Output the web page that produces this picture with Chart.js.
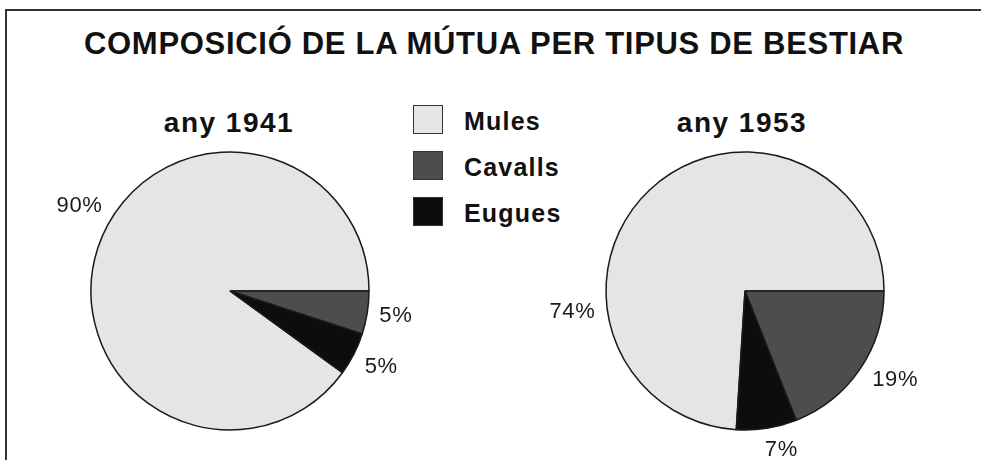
<!DOCTYPE html>
<html>
<head>
<meta charset="utf-8">
<script src="https://cdn.jsdelivr.net/npm/chart.js@4.4.0/dist/chart.umd.min.js"></script>
<style>
  html, body { margin:0; padding:0; background:#fff; }
  body { width:981px; height:460px; position:relative; overflow:hidden; font-family:"Liberation Sans", Arial, sans-serif; color:#111; }
  .frame { position:absolute; left:5px; top:9px; width:990px; height:470px; border-top:2px solid #333; border-left:2px solid #333; }
  .title { position:absolute; left:0; width:988px; top:28px; text-align:center; font-weight:bold; font-size:31px; line-height:31px; letter-spacing:0.7px; white-space:nowrap; }
  .year { position:absolute; width:240px; text-align:center; font-weight:bold; font-size:28px; line-height:28px; letter-spacing:1.5px; top:109px; }
  .box { position:absolute; }
  .leg-sq { position:absolute; left:413px; width:28px; height:27px; border:1px solid #333; }
  .leg-tx { position:absolute; left:464px; font-weight:bold; font-size:25px; line-height:25px; letter-spacing:1.2px; }
</style>
</head>
<body>
<div class="frame"></div>
<div class="title">COMPOSICIÓ DE LA MÚTUA PER TIPUS DE BESTIAR</div>
<div class="year" style="left:109px">any 1941</div>
<div class="year" style="left:622px">any 1953</div>
<div id="legend"></div>
<div class="box" style="left:40px; top:141px; width:380px; height:300px"><canvas id="pie1941"></canvas></div>
<div class="box" style="left:535px; top:122px; width:420px; height:338px"><canvas id="pie1953"></canvas></div>
<script>
// dades
const categories = ['Mules', 'Cavalls', 'Eugues'];
const years = ['1941', '1953'];
const values1941 = [90, 5, 5];
const values1953 = [74, 19, 7];
const colors = ['#e5e5e5', '#4d4d4d', '#0d0d0d'];

// llegenda (HTML)
const legend = document.getElementById('legend');
categories.forEach((c, i) => {
  const top = 105 + i * 46;
  const sq = document.createElement('div');
  sq.className = 'leg-sq';
  sq.style.top = top + 'px';
  sq.style.background = colors[i];
  const tx = document.createElement('div');
  tx.className = 'leg-tx';
  tx.style.top = (top + 4) + 'px';
  tx.textContent = c;
  legend.appendChild(sq);
  legend.appendChild(tx);
});

// etiquetes de percentatge fora del pastís
const pctLabels = {
  id: 'pctLabels',
  afterDatasetsDraw(chart, args, opts) {
    const ctx = chart.ctx;
    const meta = chart.getDatasetMeta(0);
    const vals = chart.data.datasets[0].data;
    ctx.save();
    ctx.font = opts.size + 'px "Liberation Sans", Arial, sans-serif';
    ctx.letterSpacing = '0.6px';
    ctx.fillStyle = '#1a1a1a';
    ctx.textAlign = 'center';
    ctx.textBaseline = 'alphabetic';
    meta.data.forEach((arc, i) => {
      const p = arc.getProps(['x', 'y', 'startAngle', 'endAngle', 'outerRadius'], true);
      const a = (p.startAngle + p.endAngle) / 2 + (opts.shift[i] || 0) * Math.PI / 180;
      const txt = vals[i] + '%';
      const w = ctx.measureText(txt).width;
      const h = opts.size * 0.72;
      const d = p.outerRadius + opts.gap + Math.abs(Math.cos(a)) * w / 2 + Math.abs(Math.sin(a)) * h / 2;
      ctx.fillText(txt, p.x + Math.cos(a) * d, p.y + Math.sin(a) * d + h / 2);
    });
    ctx.restore();
  }
};

function drawPie(canvasId, data, shift){
  const total = data.reduce((s, v) => s + v, 0);
  // comença a les 3 en punt amb Cavalls, en sentit horari
  const rotation = 90 - 360 * data[0] / total;
  return new Chart(document.getElementById(canvasId), {
    type: 'pie',
    data: {
      labels: categories,
      datasets: [{
        data,
        backgroundColor: colors,
        borderColor: '#1a1a1a',
        borderWidth: 1.5,
        radius: 139
      }]
    },
    options: {
      responsive: true,
      maintainAspectRatio: false,
      animation: false,
      rotation,
      layout: { padding: 0 },
      plugins: {
        legend: { display: false },
        tooltip: { enabled: false },
        title: { display: false },
        pctLabels: { size: 22, gap: 11, shift }
      }
    },
    plugins: [pctLabels]
  });
}

drawPie('pie1941', values1941, [12, -1, -1]);
drawPie('pie1953', values1953, [-53, -4, -4]);
</script>
</body>
</html>
